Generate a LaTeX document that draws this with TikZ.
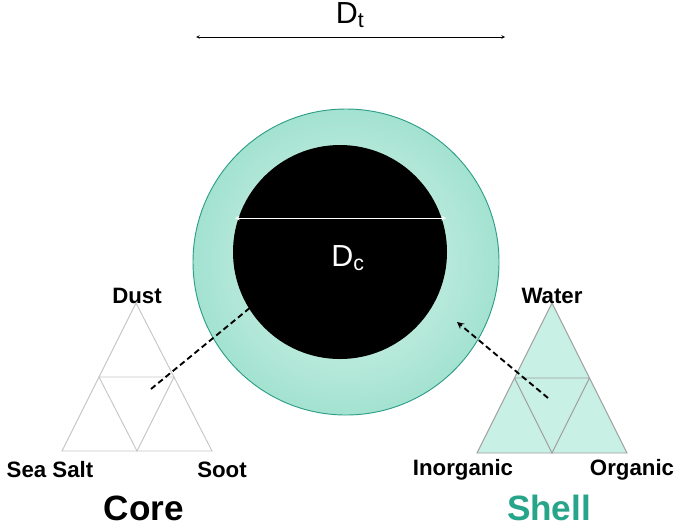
\documentclass[tikz,border=0pt]{standalone}
\usepackage{fontspec}
\setmainfont{Liberation Sans}
\definecolor{shellfill}{HTML}{B8EEDD}
\definecolor{shelledge}{HTML}{2E9E88}
\definecolor{trifill}{HTML}{C8F0E4}
\definecolor{shelltxt}{HTML}{27A58A}
\begin{document}
\begin{tikzpicture}[x=0.03cm,y=-0.03cm,
  lbl/.style={font=\fontsize{19}{22}\selectfont\bfseries},
  big/.style={font=\fontsize{30}{34}\selectfont\bfseries},
  dim/.style={font=\fontsize{26}{30}\selectfont},
  tri/.style={draw=gray!45,line width=0.8pt}]
\useasboundingbox (0,0) rectangle (685,529);
% circles
\shade[inner color=white!50!shellfill,outer color=shellfill!85!shelledge] (346,262) circle (153);
\draw[shelledge,line width=0.8pt] (346,262) circle (153);
\fill[black] (340,252) circle (107);
% dimension arrows
\coordinate (t1) at (196,37); \coordinate (t2) at (505,37);
\draw[<->,>=stealth] (t1) -- (t2);
\node[dim] (dt) at (350,15) {D\textsubscript{t}};
\coordinate (c1) at (235,218); \coordinate (c2) at (446,218);
\draw[<->,>=stealth,white,line width=0.8pt] (c1) -- (c2);
\node[dim,text=white] (dc) at (348,258) {D\textsubscript{c}};
% left triangle
\draw[tri] (136,303) -- (62,451) -- (212,451) -- cycle;
\draw[tri] (99,377) -- (174,377) -- (137,451) -- cycle;
% right triangle
\draw[tri,fill=trifill,draw=gray!75] (552,303) -- (477,453) -- (627,453) -- cycle;
\draw[tri,draw=gray!75] (514.5,378) -- (589.5,378) -- (552,453) -- cycle;
% arrows
\coordinate (a1) at (151,389); \coordinate (a2) at (268,293);
\draw[->,>=stealth,line width=1.6pt,dash pattern=on 5pt off 3pt] (a1) -- (a2);
\coordinate (b1) at (548,398); \coordinate (b2) at (457,322);
\draw[->,>=stealth,line width=1.6pt,dash pattern=on 5pt off 3pt] (b1) -- (b2);
% labels
\node[lbl] (dust) at (137,296) {Dust};
\node[lbl] (salt) at (50,470) {Sea Salt};
\node[lbl] (soot) at (222,470) {Soot};
\node[big] (core) at (144,508) {Core};
\node[lbl] (water) at (552,296) {Water};
\node[lbl] (inorg) at (463,470) {Inorganic};
\node[lbl] (org) at (632,470) {Organic};
\node[big,text=shelltxt] (shell) at (549,508) {Shell};
\end{tikzpicture}
\end{document}
